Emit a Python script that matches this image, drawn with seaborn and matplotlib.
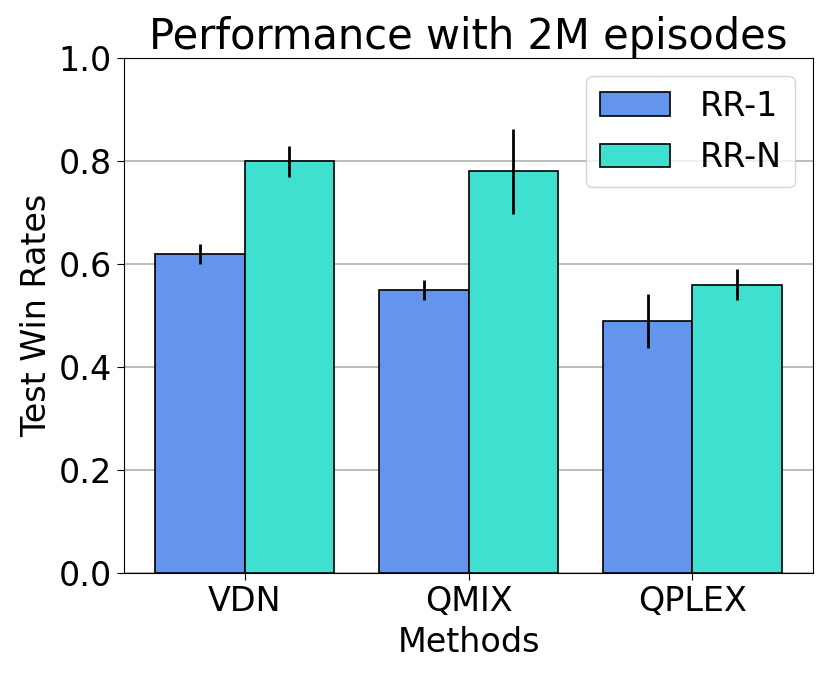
import numpy as np
import pandas as pd
import matplotlib
matplotlib.use("Agg")
import matplotlib.pyplot as plt
import seaborn as sns

methods = ["VDN", "QMIX", "QPLEX"]
series = ["RR-1", "RR-N"]
rr1_means = [0.62, 0.55, 0.49]
rrn_means = [0.80, 0.78, 0.56]
rr1_err = [0.019, 0.019, 0.053]
rrn_err = [0.030, 0.083, 0.030]
colors = ["cornflowerblue", "turquoise"]

df = pd.DataFrame({
    "Methods": methods * 2,
    "Setting": [series[0]] * 3 + [series[1]] * 3,
    "Win": rr1_means + rrn_means,
})

fig = plt.figure(figsize=(8.3, 6.76), dpi=100)
ax = fig.add_axes([0.149, 0.152, 0.831, 0.762])
sns.barplot(data=df, x="Methods", y="Win", hue="Setting", hue_order=series,
            order=methods, palette=colors, edgecolor="black", linewidth=1.2,
            errorbar=None, width=0.8, saturation=1, ax=ax, zorder=3)

errs = {series[0]: rr1_err, series[1]: rrn_err}
means = {series[0]: rr1_means, series[1]: rrn_means}
for cont, s in zip(ax.containers, series):
    xs = [p.get_x() + p.get_width() / 2 for p in cont.patches]
    ax.errorbar(xs, means[s], yerr=errs[s], fmt="none", ecolor="black",
                elinewidth=2, capsize=0, zorder=4)

ax.set_ylim(0, 1.0)
ax.set_xlim(-0.54, 2.54)
ax.yaxis.grid(True, color="#b0b0b0", linewidth=1.2, zorder=0)
ax.set_axisbelow(True)
ax.set_yticks([0.0, 0.2, 0.4, 0.6, 0.8, 1.0])
ax.set_yticklabels(["0.0", "0.2", "0.4", "0.6", "0.8", "1.0"])
ax.tick_params(labelsize=24, length=5)
ax.set_xlabel("Methods", fontsize=24, labelpad=6)
ax.set_ylabel("Test Win Rates", fontsize=24)
ax.set_title("Performance with 2M episodes", fontsize=30, pad=6)
ax.legend(loc="upper right", fontsize=24, handlelength=2.1,
          handletextpad=0.9, labelspacing=0.55, borderaxespad=0.55)
for sp in ax.spines.values():
    sp.set_color("black")

fig.savefig("out.png", dpi=100)
